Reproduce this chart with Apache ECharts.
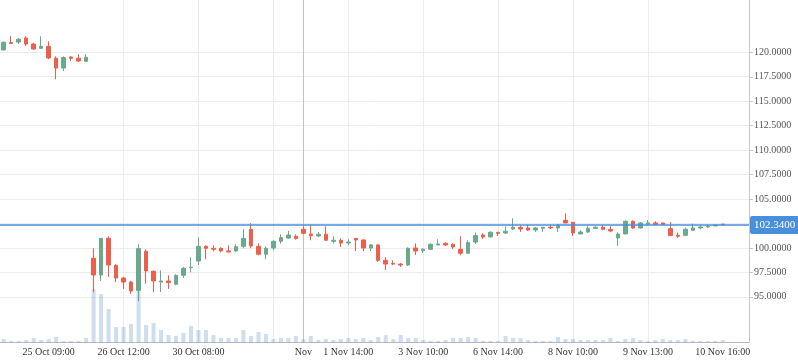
<!DOCTYPE html>
<html><head><meta charset="utf-8">
<script src="https://cdn.jsdelivr.net/npm/echarts@6/dist/echarts.min.js"></script>
<style>html,body{margin:0;padding:0;background:#fff}#c{width:798px;height:363px}</style>
</head><body><div id="c"></div>
<script>
// ---- data ----
const opens = [120.24,121.0,121.05,121.46,120.85,120.41,120.61,119.39,118.39,119.52,119.39,119.08,
  98.94,97.23,100.98,98.22,96.92,96.51,95.66,99.65,97.61,96.51,
  96.62,96.28,97.2,97.98,98.66,100.16,99.96,99.96,99.69,99.69,
  100.16,101.9,100.16,99.35,99.99,100.67,101.01,101.18,101.9,101.42,
  101.22,101.39,100.67,100.78,100.5,100.98,100.81,99.99,100.3,98.73,
  98.42,98.35,98.25,99.99,99.72,99.86,100.3,100.47,100.37,99.86,
  99.45,100.6,101.32,101.12,101.6,101.52,101.93,102.11,102.04,101.83,
  102.0,102.11,102.04,102.82,102.62,101.42,101.63,102.0,102.11,101.9,
  101.01,101.42,102.72,102.04,102.41,102.55,102.55,101.97,101.29,101.29,
  101.8,102.04,102.14,102.24,102.44];
const closes = [121.02,120.9,121.33,120.85,120.34,120.61,119.42,118.39,119.46,119.39,119.11,119.49,
  97.23,100.98,98.25,96.92,96.51,95.59,99.93,97.64,96.62,96.62,
  96.45,97.2,97.91,98.02,100.16,99.96,99.86,99.69,99.58,100.13,
  100.98,100.2,99.35,99.96,100.67,101.05,101.32,100.95,101.49,101.25,
  101.39,100.78,100.78,100.5,100.6,100.81,99.99,100.3,98.73,98.35,
  98.35,98.25,99.96,99.68,99.86,100.37,100.4,100.3,100.09,99.45,
  100.54,101.26,101.12,101.6,101.49,101.7,102.11,101.93,101.83,102.04,
  102.11,102.04,102.34,102.55,101.53,101.63,102.0,102.11,101.9,101.73,
  101.42,102.72,102.04,102.55,102.55,102.41,102.41,101.26,101.19,101.9,
  102.04,102.14,102.21,102.34,102.34];
const lows = [120.2,120.9,120.85,120.64,120.24,120.34,119.31,117.24,118.09,119.11,119.0,119.0,
  95.49,96.62,97.03,96.51,95.8,95.29,94.57,96.35,95.49,95.49,
  95.8,96.18,96.92,97.5,98.25,98.83,99.65,99.55,99.55,99.58,
  99.96,99.96,99.24,98.83,99.78,100.44,100.91,100.85,101.39,100.78,
  101.12,100.75,100.44,100.09,100.27,99.68,99.68,99.68,98.56,97.74,
  98.25,98.05,98.15,99.27,99.48,99.79,100.3,100.2,99.89,99.24,
  99.45,100.4,100.91,101.08,101.22,101.42,101.83,101.63,101.73,101.63,
  101.63,101.93,101.63,102.55,101.22,101.42,101.53,101.93,101.8,101.6,
  100.2,101.42,101.93,101.97,102.38,102.34,102.38,101.26,101.02,101.19,
  101.8,101.9,102.04,102.24,102.34];
const highs = [121.1,121.64,121.46,121.64,120.95,121.64,121.12,119.59,119.59,119.59,119.8,119.8,
  99.96,100.98,101.19,98.32,97.03,96.62,100.37,99.86,97.71,97.71,
  97.2,97.3,98.05,99.04,101.08,100.27,100.27,100.06,100.27,100.37,
  101.9,102.52,100.47,100.16,100.78,101.39,101.73,101.39,102.21,102.41,
  101.63,102.21,101.15,100.98,100.88,100.98,100.88,100.4,100.4,99.04,
  98.73,98.45,100.06,100.47,99.99,100.47,100.88,100.57,100.47,101.19,
  100.78,101.57,101.49,101.7,101.6,102.21,103.03,102.31,102.34,102.14,
  102.11,102.34,102.45,103.54,102.62,101.8,102.21,102.21,102.34,102.21,
  101.6,102.82,102.82,102.65,102.85,102.72,102.58,102.65,101.57,102.07,
  102.48,102.31,102.38,102.38,102.44];
const volumes = [33,13,13,23,43,23,33,53,13,13,13,43,
  536,483,333,153,153,183,683,173,193,123,
  73,63,93,163,123,123,73,43,43,43,
  123,63,103,83,33,43,43,63,33,63,
  23,33,23,33,43,33,43,23,53,73,
  33,73,43,43,23,13,13,23,43,43,
  53,43,13,13,13,63,43,43,23,13,
  13,13,53,33,33,23,23,23,23,43,
  13,33,43,23,13,23,33,23,23,33,
  13,13,13,13,23];
const emptySlots = 3;
const tickSlots = [6,16,26,40,46,56,66,76,86,96];
const tickLabels = ['25 Oct 09:00','26 Oct 12:00','30 Oct 08:00','Nov','1 Nov 14:00','3 Nov 10:00','6 Nov 14:00','8 Nov 10:00','9 Nov 13:00','10 Nov 16:00'];
const gridSlots = [6,16,26,36,46,56,66,76,86,96];
const monthSlot = 40;
const lastPrice = 102.34;
const priceMin = 95, priceMax = 120, priceStep = 2.5;
const volumeMax = 800;

// ---- build ----
const slotIds = Array.from({length: opens.length + emptySlots}, (_, i) => 's' + i);
const labelFor = i => { const k = tickSlots.indexOf(i); return k >= 0 ? tickLabels[k] : ''; };
const candles = opens.map((o, i) => [o, closes[i], lows[i], highs[i]]);
const FONT = 'Liberation Serif';
const UP = '#6aa98b', DOWN = '#ec5f4c', BLUE = '#4a8fdb';

const chart = echarts.init(document.getElementById('c'), null, {renderer: 'canvas'});
chart.setOption({
  animation: false,
  backgroundColor: '#fff',
  textStyle: {fontFamily: FONT},
  grid: [
    {left: 0, right: 49, top: 52.3, bottom: 66.2},
    {left: 0, right: 49, top: 0, bottom: 20.7},
    {left: 0, right: 49, bottom: 20.7, height: 80}
  ],
  xAxis: [
    {type: 'category', gridIndex: 1, data: slotIds, boundaryGap: true,
     axisLine: {lineStyle: {color: '#b4b9c2'}},
     axisTick: {interval: i => gridSlots.includes(i) || i === monthSlot, alignWithLabel: true, length: 3, lineStyle: {color: '#b4b9c2'}},
     axisLabel: {interval: i => tickSlots.includes(i), formatter: (v, i) => labelFor(i), color: '#333', fontSize: 10, margin: 5, fontFamily: FONT},
     splitLine: {show: true, alignWithLabel: true, showMinLine: false, showMaxLine: false,
       interval: i => gridSlots.includes(i), lineStyle: {color: '#ececec'}}},
    {type: 'category', gridIndex: 1, data: slotIds, boundaryGap: true,
     axisLine: {show: false}, axisTick: {show: false}, axisLabel: {show: false},
     splitLine: {show: true, alignWithLabel: true,
       interval: i => i === monthSlot, lineStyle: {color: '#c4c4c4'}}},
    {type: 'category', gridIndex: 0, data: slotIds, show: false},
    {type: 'category', gridIndex: 2, data: slotIds, show: false}
  ],
  yAxis: [
    {type: 'value', gridIndex: 1, position: 'right', min: 0, max: 1,
     axisLine: {show: true, lineStyle: {color: '#c8c8c8'}}, axisTick: {show: false},
     axisLabel: {show: false}, splitLine: {show: false}},
    {type: 'value', gridIndex: 0, position: 'right', min: priceMin, max: priceMax, interval: priceStep,
     axisLine: {show: false}, axisTick: {show: true, length: 4, lineStyle: {color: '#c8c8c8'}},
     axisLabel: {color: '#555', fontSize: 10, margin: 5, fontFamily: FONT, formatter: v => v.toFixed(4)},
     splitLine: {show: true, lineStyle: {color: '#ececec'}}},
    {type: 'value', gridIndex: 2, min: 0, max: volumeMax, show: false}
  ],
  series: [
    {type: 'candlestick', xAxisIndex: 2, yAxisIndex: 1, data: candles, barWidth: 4, clip: false,
     itemStyle: {color: UP, color0: DOWN, borderColor: UP, borderColor0: DOWN, borderWidth: 1},
     markLine: {symbol: 'none', silent: true, animation: false,
       data: [{yAxis: lastPrice}],
       lineStyle: {color: BLUE, width: 1.5, type: 'solid'},
       label: {position: 'end', distance: 1, formatter: lastPrice.toFixed(4), color: '#fff',
         backgroundColor: BLUE, padding: [4, 4, 3, 4], borderRadius: 2, fontSize: 11, fontFamily: FONT}}},
    {type: 'bar', xAxisIndex: 3, yAxisIndex: 2, data: volumes, barWidth: 4,
     itemStyle: {color: 'rgba(74,128,196,0.27)'}}
  ]
});
</script>
</body></html>
